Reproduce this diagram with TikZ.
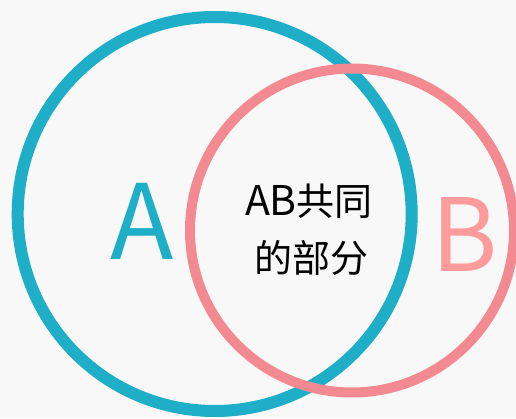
\documentclass[tikz,border=0pt]{standalone}
\usepackage{fontspec}
\setmainfont{Noto Sans CJK SC}
\definecolor{bgc}{HTML}{F8F8F8}
\definecolor{tealc}{HTML}{1FAEC8}
\definecolor{pinkc}{HTML}{F38A92}
\definecolor{pinktext}{HTML}{FF9B9B}
\begin{document}
\begin{tikzpicture}[x=1pt,y=1pt,
  setA/.style={draw=tealc,line width=12pt},
  setB/.style={draw=pinkc,line width=10pt},
  biglabel/.style={inner sep=0pt,anchor=base,font=\fontsize{104}{104}\selectfont},
  midlabel/.style={inner sep=0pt,anchor=base,font=\fontsize{38}{38}\selectfont}]
\fill[bgc] (0,0) rectangle (516,418);
\useasboundingbox (0,0) rectangle (516,418);
\node[setA,circle,minimum size=394pt,inner sep=0pt] (cA) at (214.7,204) {};
\node[setB,circle,minimum size=324pt,inner sep=0pt] (cB) at (352,187.5) {};
\node[biglabel,text=tealc] (lA) at (142,159) {A};
\node[biglabel,text=pinktext,font=\fontsize{101}{101}\selectfont] (lB) at (465,147) {B};
\node[midlabel] (l1) at (309,203) {{\fontsize{41}{41}\selectfont AB}共同};
\node[midlabel] (l2) at (311,146) {的部分};
\end{tikzpicture}
\end{document}
